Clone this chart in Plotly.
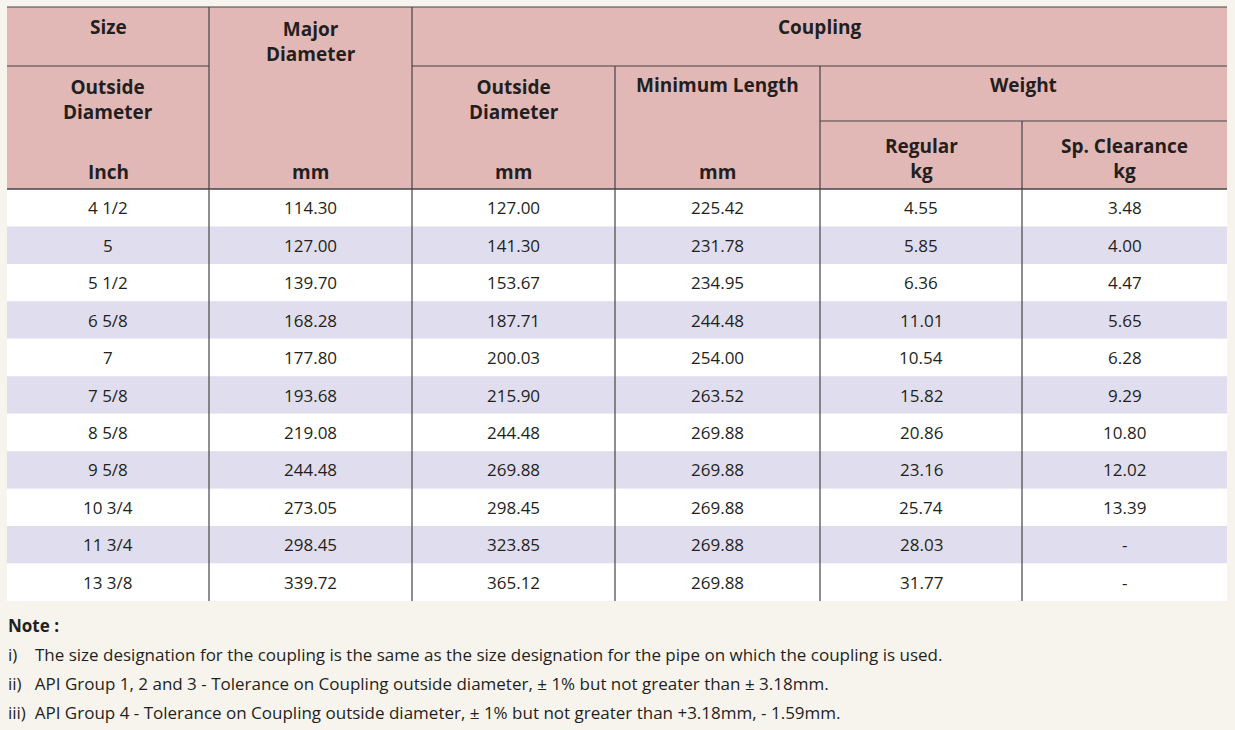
import plotly.graph_objects as go

sizes = ["4 1/2", "5", "5 1/2", "6 5/8", "7", "7 5/8", "8 5/8", "9 5/8", "10 3/4", "11 3/4", "13 3/8"]
major_diameter = ["114.30", "127.00", "139.70", "168.28", "177.80", "193.68", "219.08", "244.48", "273.05", "298.45", "339.72"]
coupling_od = ["127.00", "141.30", "153.67", "187.71", "200.03", "215.90", "244.48", "269.88", "298.45", "323.85", "365.12"]
min_length = ["225.42", "231.78", "234.95", "244.48", "254.00", "263.52", "269.88", "269.88", "269.88", "269.88", "269.88"]
weight_regular = ["4.55", "5.85", "6.36", "11.01", "10.54", "15.82", "20.86", "23.16", "25.74", "28.03", "31.77"]
weight_sp = ["3.48", "4.00", "4.47", "5.65", "6.28", "9.29", "10.80", "12.02", "13.39", "-", "-"]
notes = [
    "i)    The size designation for the coupling is the same as the size designation for the pipe on which the coupling is used.",
    "ii)   API Group 1, 2 and 3 - Tolerance on Coupling outside diameter, ± 1% but not greater than ± 3.18mm.",
    "iii)  API Group 4 - Tolerance on Coupling outside diameter, ± 1% but not greater than +3.18mm, - 1.59mm.",
]

cols = [7, 209, 412, 615, 820, 1022, 1227]
top, h1, h2, hb = 7, 66, 121, 189
rh = (601 - 189) / 11
PINK = "#e2b8b7"; LAV = "#e0deee"; LINE = "#444"; TXT = "#231f20"
FONT = "Open Sans"

fig = go.Figure()
shapes = []
ann = []
def rect(x0, y0, x1, y1, color):
    shapes.append(dict(type="rect", xref="x", yref="y", x0=x0, x1=x1, y0=y0, y1=y1,
                       fillcolor=color, line=dict(width=0), layer="below"))
def line(x0, y0, x1, y1, w=1.2):
    shapes.append(dict(type="line", xref="x", yref="y", x0=x0, x1=x1, y0=y0, y1=y1,
                       line=dict(color=LINE, width=w)))
def text(x, y, s, size=15, bold=False, xanchor="center"):
    if bold:
        s = "<b>" + s + "</b>"
    ann.append(dict(x=x, y=y, xref="x", yref="y", text=s, showarrow=False, xanchor=xanchor,
                    yanchor="middle", font=dict(family=FONT, size=size, color=TXT)))

rect(cols[0], top, cols[-1], hb, PINK)
for i in range(11):
    y0 = hb + i * rh
    rect(cols[0], y0, cols[-1], y0 + rh, "white" if i % 2 == 0 else LAV)

line(cols[0], top, cols[-1], top)
line(cols[0], h1, cols[1], h1)
line(cols[2], h1, cols[-1], h1)
line(cols[4], h2, cols[-1], h2)
line(cols[0], hb, cols[-1], hb, 1.5)
for i, x in enumerate(cols[1:-1], start=1):
    ytop = top if i in (1, 2) else (h1 if i in (3, 4) else h2)
    line(x, ytop, x, 601)

hs = 19
cx = [(cols[i] + cols[i + 1]) / 2 for i in range(6)]
text(cx[0], 27, "Size", hs, True)
text(cx[0], 99, "Outside<br>Diameter", hs, True)
text(cx[0], 172, "Inch", hs, True)
text(cx[1], 41, "Major<br>Diameter", hs, True)
text(cx[1], 172, "mm", hs, True)
text((cols[2] + cols[-1]) / 2, 27, "Coupling", hs, True)
text(cx[2], 99, "Outside<br>Diameter", hs, True)
text(cx[2], 172, "mm", hs, True)
text(cx[3], 85, "Minimum Length", hs, True)
text(cx[3], 172, "mm", hs, True)
text((cols[4] + cols[-1]) / 2, 85, "Weight", hs, True)
text(cx[4], 158, "Regular<br>kg", hs, True)
text(cx[5], 158, "Sp. Clearance<br>kg", hs, True)

for i in range(11):
    yc = hb + (i + 0.5) * rh
    for j, arr in enumerate([sizes, major_diameter, coupling_od, min_length, weight_regular, weight_sp]):
        text(cx[j], yc, arr[i], 17)

text(6, 625, "Note :", 17, True, "left")
for k, n in enumerate(notes):
    text(6, 654 + k * 29, n, 17, False, "left")

fig.update_layout(width=1235, height=730, margin=dict(l=0, r=0, t=0, b=0),
                  paper_bgcolor="#f7f4ee", plot_bgcolor="#f7f4ee",
                  shapes=shapes, annotations=ann, showlegend=False)
fig.update_xaxes(range=[0, 1235], visible=False, fixedrange=True)
fig.update_yaxes(range=[730, 0], visible=False, fixedrange=True)
fig.write_html("out.html", config={"displayModeBar": False},
               post_script="document.body.style.margin='0';document.body.style.overflow='hidden';document.body.style.background='#f7f4ee';")
